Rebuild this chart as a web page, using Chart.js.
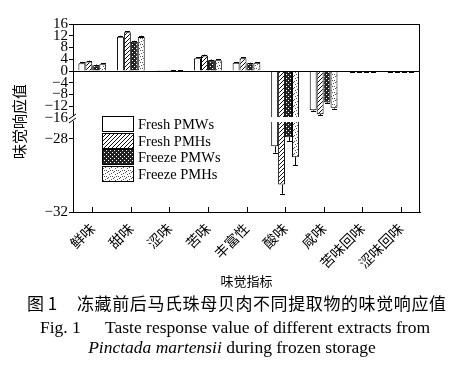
<!DOCTYPE html>
<html>
<head>
<meta charset="utf-8">
<script src="https://cdn.jsdelivr.net/npm/chart.js@4"></script>
<style>
  body { margin: 0; background: #fff; width: 464px; height: 370px; position: relative; overflow: hidden; }
  #wrap { position: absolute; left: 0; top: 0; width: 464px; height: 295px; }
  .txt { position: absolute; white-space: nowrap; color: #000; }
</style>
</head>
<body>
<div id="wrap"><canvas id="tasteChart"></canvas></div>
<div class="txt" style="left:-20px;top:111px;width:76px;text-align:center;font:15px 'Noto Sans CJK SC';transform:rotate(-90deg)">味觉响应值</div>
<div class="txt" style="left:0;top:271px;width:493px;text-align:center;font:13px 'Noto Sans CJK SC'">味觉指标</div>
<div class="txt" style="left:27px;top:290px;font:17px 'Noto Sans CJK SC'">图 1</div>
<div class="txt" style="left:77px;top:290px;font:17px 'Noto Sans CJK SC';letter-spacing:0.6px">冻藏前后马氏珠母贝肉不同提取物的味觉响应值</div>
<div class="txt" style="left:40px;top:317px;font:17.5px 'Liberation Serif'">Fig. 1</div>
<div class="txt" style="left:105px;top:317px;font:17.5px 'Liberation Serif'">Taste response value of different extracts from</div>
<div class="txt" style="left:0;top:337px;width:464px;text-align:center;font:17.5px 'Liberation Serif'"><i>Pinctada martensii</i> during frozen storage</div>

<script>
  // categories and series
  const categories = ['鲜味', '甜味', '涩味', '苦味', '丰富性', '酸味', '咸味', '苦味回味', '涩味回味'];
  const seriesNames = ['Fresh PMWs', 'Fresh PMHs', 'Freeze PMWs', 'Freeze PMHs'];

  const freshPMWs  = [2.6, 11.7, 0.1, 4.3, 2.8, -28.4, -13.4, -0.3, -0.3];
  const freshPMHs  = [3.2, 13.2, 0.1, 5.3, 4.3, -30.5, -14.7, -0.4, -0.3];
  const freezePMWs = [2.0, 10.0, 0.3, 3.7, 2.6, -27.9, -10.7, -0.4, -0.4];
  const freezePMHs = [2.3, 11.6, 0.2, 3.7, 2.8, -29.0, -12.5, -0.3, -0.3];

  const freshPMWsErr  = [0.3, 0.3, 0.05, 0.3, 0.2, 0.35, 0.3, 0.1, 0.1];
  const freshPMHsErr  = [0.3, 0.3, 0.05, 0.3, 0.3, 0.5, 0.4, 0.1, 0.1];
  const freezePMWsErr = [0.2, 0.3, 0.05, 0.2, 0.2, 0.2, 0.3, 0.1, 0.1];
  const freezePMHsErr = [0.3, 0.4, 0.05, 0.3, 0.2, 0.45, 0.3, 0.1, 0.1];

  // broken y axis: upper and lower part
  const upperTicks = [16, 12, 8, 4, 0, -4, -8, -12, -16];
  const lowerTicks = [-28, -32];
  const UPPER_MIN = -16, UPPER_MAX = 16;
  const LOWER_MIN = -32, LOWER_MAX = -26.85;

  const values = [freshPMWs, freshPMHs, freezePMWs, freezePMHs];
  const errors = [freshPMWsErr, freshPMHsErr, freezePMWsErr, freezePMHsErr];

  const ctx = document.getElementById('tasteChart').getContext('2d');

  // fill patterns
  function makeTile(size, draw) {
    const c = document.createElement('canvas');
    c.width = c.height = size;
    const g = c.getContext('2d');
    g.fillStyle = '#fff';
    g.fillRect(0, 0, size, size);
    draw(g);
    return ctx.createPattern(c, 'repeat');
  }
  const patterns = [
    '#fff',
    makeTile(4, g => { g.fillStyle = '#111'; for (let i = 0; i < 4; i++) g.fillRect(i, 3 - i, 1, 1); }),
    makeTile(4, g => { g.fillStyle = '#222'; g.fillRect(0, 0, 4, 4); g.fillStyle = '#fff'; g.fillRect(0, 0, 1, 1); g.fillRect(2, 2, 1, 1); }),
    makeTile(6, g => { g.fillStyle = '#555'; [[1, 0], [4, 2], [0, 3], [3, 5], [5, 4], [2, 2]].forEach(p => g.fillRect(p[0], p[1], 1, 1)); })
  ];

  const datasets = [];
  values.forEach((vals, i) => {
    datasets.push({
      label: seriesNames[i], stack: 's' + i, yAxisID: 'yTop',
      data: vals.map(v => Math.max(v, UPPER_MIN)),
      backgroundColor: patterns[i], borderColor: '#000', borderWidth: 1
    });
  });
  values.forEach((vals, i) => {
    datasets.push({
      label: seriesNames[i] + ' low', stack: 's' + i, yAxisID: 'yBot',
      data: vals.map(v => v < LOWER_MAX ? [LOWER_MAX, v] : null),
      backgroundColor: patterns[i], borderColor: '#000', borderWidth: 1
    });
  });

  const tickFont = { family: 'Liberation Serif', size: 15 };
  const fmt = v => (v < 0 ? '\u2212' + Math.abs(v) : '' + v);

  const decorations = {
    id: 'decorations',
    afterDatasetsDraw(chart) {
      const { ctx, chartArea: a, scales } = chart;
      const yTop = scales.yTop, yBot = scales.yBot, x = scales.x;
      ctx.save();
      // gap across the break
      const yb = yTop.bottom;
      ctx.fillStyle = '#fff';
      ctx.fillRect(a.left + 1, yb - 1, a.right - a.left - 2, 5);
      ctx.strokeStyle = '#000';
      ctx.lineWidth = 1;
      ctx.beginPath();
      // frame: top, right
      ctx.moveTo(a.left, a.top + 0.5); ctx.lineTo(a.right, a.top + 0.5);
      ctx.moveTo(a.right - 0.5, a.top); ctx.lineTo(a.right - 0.5, a.bottom);
      // zero line
      const y0 = Math.round(yTop.getPixelForValue(0)) + 0.5;
      ctx.moveTo(a.left, y0); ctx.lineTo(a.right, y0);
      // inward x ticks
      categories.forEach((c, j) => {
        const px = Math.round(x.getPixelForValue(j)) + 0.5;
        ctx.moveTo(px, a.bottom); ctx.lineTo(px, a.bottom - 5);
      });
      ctx.stroke();
      // error bars
      ctx.beginPath();
      values.forEach((vals, i) => {
        const meta = chart.getDatasetMeta(i);
        vals.forEach((v, j) => {
          const sc = v < LOWER_MAX ? yBot : yTop;
          const px = Math.round(meta.data[j].x) + 0.5;
          const p1 = sc.getPixelForValue(v);
          const p2 = sc.getPixelForValue(v + Math.sign(v) * errors[i][j]);
          ctx.moveTo(px, p1); ctx.lineTo(px, p2);
          ctx.moveTo(px - 2.5, Math.round(p2) + 0.5); ctx.lineTo(px + 2.5, Math.round(p2) + 0.5);
        });
      });
      ctx.stroke();
      // break mark on the y axis
      ctx.fillStyle = '#fff';
      ctx.fillRect(a.left - 3, yb - 2, 6, 5);
      ctx.beginPath();
      ctx.moveTo(a.left - 4, yb + 1); ctx.lineTo(a.left + 3, yb - 4);
      ctx.moveTo(a.left - 4, yb + 5); ctx.lineTo(a.left + 3, yb);
      ctx.stroke();
      // legend
      const lx = a.left + 29, ly = yb - 2, bw = 31, bh = 15, step = 16.6;
      ctx.font = '14.5px "Liberation Serif"';
      ctx.textBaseline = 'middle';
      seriesNames.forEach((n, i) => {
        const ty = Math.round(ly + i * step) + 0.5;
        ctx.fillStyle = patterns[i];
        ctx.fillRect(lx, ty, bw, bh);
        ctx.strokeRect(lx + 0.5, ty, bw, bh);
        ctx.fillStyle = '#000';
        ctx.fillText(n, lx + bw + 5, ty + bh / 2 + 1);
      });
      ctx.restore();
    }
  };

  new Chart(ctx, {
    type: 'bar',
    data: { labels: categories, datasets: datasets },
    options: {
      responsive: true,
      maintainAspectRatio: false,
      animation: false,
      layout: { padding: { top: 24, right: 44, left: 0, bottom: 0 } },
      datasets: { bar: { categoryPercentage: 0.72, barPercentage: 1.0 } },
      plugins: { legend: { display: false }, tooltip: { enabled: false } },
      scales: {
        x: {
          grid: { display: false },
          border: { display: true, color: '#000' },
          ticks: { color: '#000', font: { family: 'Noto Sans CJK SC', size: 14 }, minRotation: 45, maxRotation: 45, padding: 0, autoSkip: false },
          afterFit: s => { s.height = 83; }
        },
        yBot: {
          position: 'left', stack: 'ys', stackWeight: 1, stacked: false,
          min: LOWER_MIN, max: LOWER_MAX,
          afterBuildTicks: s => { s.ticks = lowerTicks.map(v => ({ value: v })); },
          grid: { drawOnChartArea: false, tickLength: 4, color: '#000' },
          border: { display: true, color: '#000' },
          ticks: { color: '#000', font: tickFont, padding: 1, callback: fmt, autoSkip: false },
          afterFit: s => { s.width = 73; }
        },
        yTop: {
          position: 'left', stack: 'ys', stackWeight: 1, stacked: false,
          min: UPPER_MIN, max: UPPER_MAX,
          afterBuildTicks: s => { s.ticks = upperTicks.map(v => ({ value: v })); },
          grid: { drawOnChartArea: false, tickLength: 4, color: '#000' },
          border: { display: true, color: '#000' },
          ticks: { color: '#000', font: tickFont, padding: 1, callback: fmt, autoSkip: false },
          afterFit: s => { s.width = 73; }
        }
      }
    },
    plugins: [decorations]
  });
</script>
</body>
</html>
